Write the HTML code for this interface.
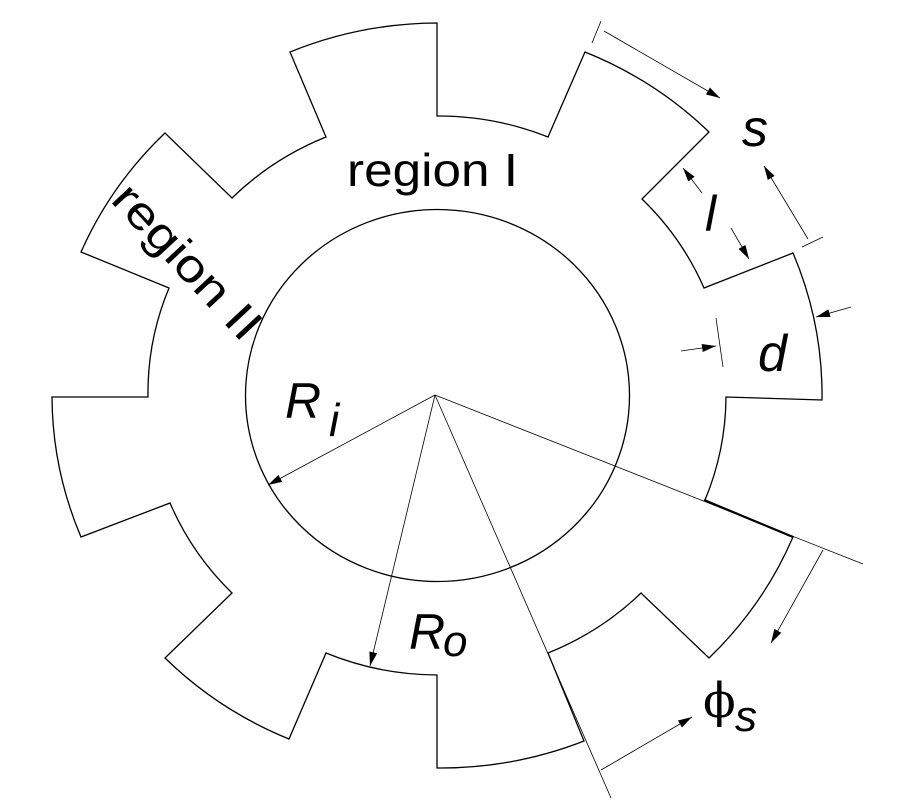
<!DOCTYPE html>
<html><head><meta charset="utf-8"><style>
html,body{margin:0;padding:0;background:#fff;}
svg{display:block;}
text{font-family:"Liberation Sans",sans-serif;fill:#000;}
</style></head><body>
<svg width="900" height="800" viewBox="0 0 900 800" xmlns="http://www.w3.org/2000/svg">
<defs>
<marker id="a" viewBox="0 0 14 8" refX="14" refY="4" markerWidth="14" markerHeight="8" markerUnits="userSpaceOnUse" orient="auto">
<path d="M0,0 L14,4 L0,8 z" fill="#000"/>
</marker>
</defs>
<g fill="none" stroke="#000" stroke-width="1.3">
<path d="M290,52 A385,373 0 0 1 437,23 L437,116 A289,280 0 0 1 548,137 L585,52 A385,373 0 0 1 709,132 L642,199 A289,280 0 0 1 704,288 L793,253 A385,373 0 0 1 822,400 L726,397 A289,280 0 0 1 705,500 L793,537 A385,373 0 0 1 709,658 L641,593 A289,280 0 0 1 548,653 L584,741 A385,373 0 0 1 437,768 L437,675 A289,280 0 0 1 326,653 L289,739 A385,373 0 0 1 165,658 L232,593 A289,280 0 0 1 170,503 L81,537 A385,373 0 0 1 52,397 L148,397 A289,280 0 0 1 169,288 L81,252 A385,373 0 0 1 165,133 L232,198 A289,280 0 0 1 326,137 Z"/>
<ellipse cx="437.5" cy="395.5" rx="192" ry="186"/>
<line x1="704" y1="500" x2="793" y2="537" stroke-width="2.2"/>
</g>
<g fill="none" stroke="#000" stroke-width="0.8">
<line x1="435" y1="395" x2="268" y2="485" marker-end="url(#a)"/>
<line x1="435" y1="395" x2="370" y2="666" marker-end="url(#a)"/>
<line x1="435" y1="395" x2="611" y2="798"/>
<line x1="435" y1="395" x2="863" y2="564"/>
<line x1="592" y1="43" x2="601" y2="21"/>
<line x1="604" y1="31" x2="720" y2="98" marker-end="url(#a)"/>
<line x1="802" y1="247" x2="823" y2="237"/>
<line x1="808" y1="239" x2="764" y2="166" marker-end="url(#a)"/>
<line x1="702" y1="193" x2="683" y2="168" marker-end="url(#a)"/>
<line x1="731" y1="228" x2="749" y2="259" marker-end="url(#a)"/>
<line x1="716" y1="318" x2="723" y2="367"/>
<line x1="681" y1="351" x2="716" y2="346" marker-end="url(#a)"/>
<line x1="851" y1="307" x2="816" y2="317" marker-end="url(#a)"/>
<line x1="823" y1="550" x2="771" y2="643" marker-end="url(#a)"/>
<line x1="601" y1="770" x2="692" y2="717" marker-end="url(#a)"/>
</g>
<text x="347" y="186" font-size="46" textLength="171" lengthAdjust="spacingAndGlyphs">region I</text>
<text x="176" y="272" font-size="46" text-anchor="middle" textLength="195" lengthAdjust="spacingAndGlyphs" transform="rotate(47 176 272)">region II</text>
<text x="285" y="418" font-size="50" font-style="italic">R</text>
<text x="329" y="436" font-size="46" font-style="italic">i</text>
<text x="409" y="649" font-size="50" font-style="italic">R</text>
<text x="443" y="656" font-size="44" font-style="italic">o</text>
<text x="742" y="146" font-size="52" font-style="italic">s</text>
<text x="705" y="231" font-size="50" font-style="italic">l</text>
<text x="758" y="371" font-size="52" font-style="italic">d</text>
<text x="703" y="717" font-size="48" style="font-family:'DejaVu Serif',serif">ϕ</text>
<text x="735" y="731" font-size="44" font-style="italic">s</text>
</svg>
</body></html>
